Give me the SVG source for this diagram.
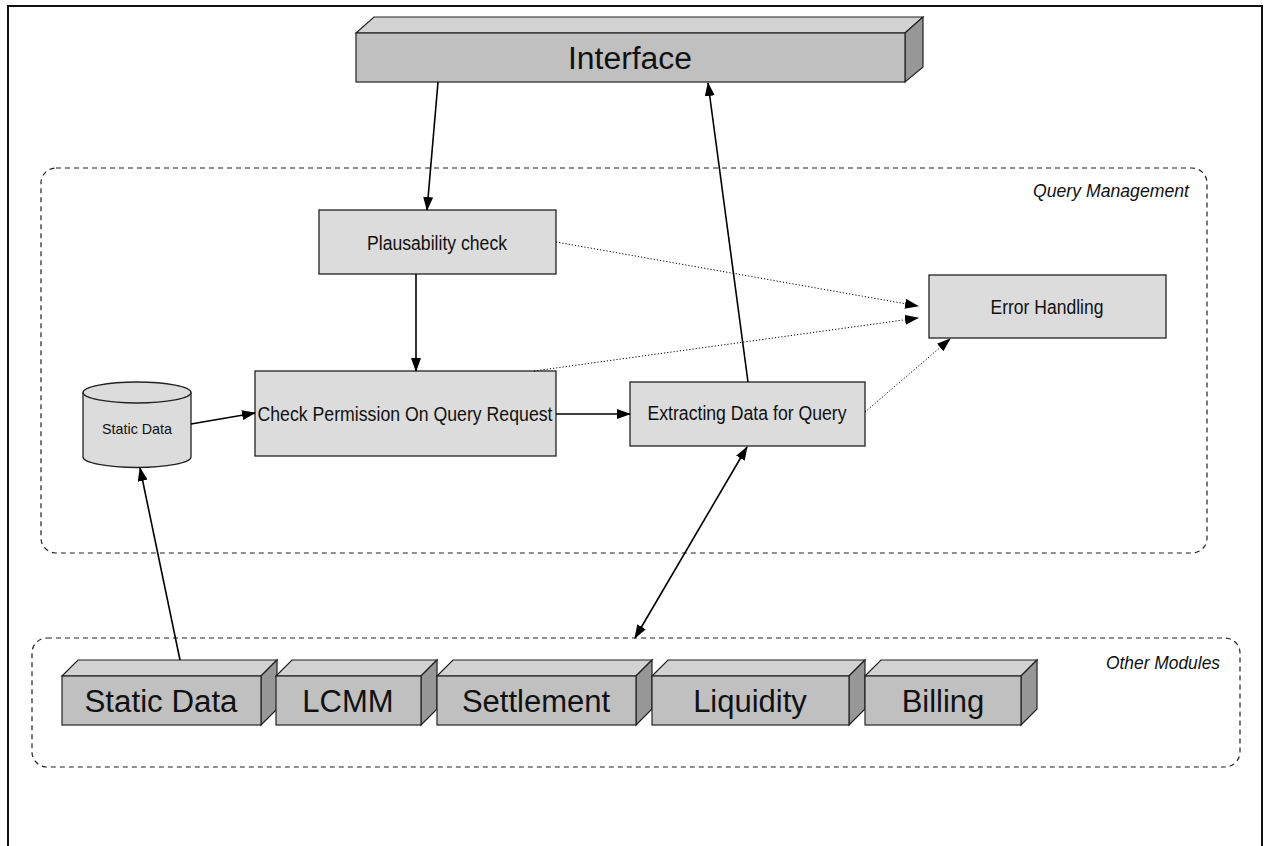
<svg xmlns="http://www.w3.org/2000/svg" width="1264" height="846" viewBox="0 0 1264 846">
<style>
.box{fill:#dcdcdc;stroke:#222;stroke-width:1.3}
.front{fill:#c0c0c0;stroke:#222;stroke-width:1.2}
.top{fill:#d2d2d2;stroke:#222;stroke-width:1.2}
.side{fill:#979797;stroke:#222;stroke-width:1.2}
.grp{fill:none;stroke:#222;stroke-width:1.2;stroke-dasharray:5 4}
.t{font-family:"Liberation Sans",Arial,sans-serif;fill:#111;text-anchor:middle}
.big{font-size:31px}
.mid{font-size:19.5px}
.lab{font-family:"Liberation Sans",Arial,sans-serif;font-style:italic;font-size:17.5px;fill:#111;text-anchor:end}
.c{fill:none;stroke:#000;stroke-width:1.6}
.d{fill:none;stroke:#000;stroke-width:1;stroke-dasharray:1.2 2}
</style>
<defs>
<marker id="ah" markerWidth="14" markerHeight="10" refX="13" refY="5" orient="auto" markerUnits="userSpaceOnUse">
<path d="M0,0 L14,5 L0,10 Z" fill="#000"/>
</marker>
<marker id="as" markerWidth="14" markerHeight="10" refX="1" refY="5" orient="auto" markerUnits="userSpaceOnUse">
<path d="M14,0 L0,5 L14,10 Z" fill="#000"/>
</marker>
</defs>
<rect x="0" y="0" width="1264" height="846" fill="#fff"/>
<path d="M8,900 L8,6 L1262,6 L1262,900" fill="none" stroke="#111" stroke-width="2"/>

<g id="query-management">
<rect class="grp" x="41" y="168" width="1166" height="385" rx="15"/>
<text class="lab" x="1189" y="197" textLength="156" lengthAdjust="spacingAndGlyphs">Query Management</text>
</g>
<g id="other-modules">
<rect class="grp" x="32" y="638" width="1208" height="129" rx="15"/>
<text class="lab" x="1220" y="669" textLength="114" lengthAdjust="spacingAndGlyphs">Other Modules</text>
</g>

<g id="interface">
<polygon class="top" points="356,33 374,17 923,17 905,33"/>
<polygon class="side" points="905,33 923,17 923,67 905,82"/>
<rect class="front" x="356" y="33" width="549" height="49"/>
<text class="t big" x="630" y="69" textLength="124" lengthAdjust="spacingAndGlyphs">Interface</text>
</g>

<g id="plausability">
<rect class="box" x="319" y="210" width="237" height="64"/>
<text class="t mid" x="437" y="250" textLength="140" lengthAdjust="spacingAndGlyphs">Plausability check</text>
</g>
<g id="check-permission">
<rect class="box" x="255" y="371" width="301" height="85"/>
<text class="t mid" x="405" y="421" textLength="295" lengthAdjust="spacingAndGlyphs">Check Permission On Query Request</text>
</g>
<g id="extracting">
<rect class="box" x="630" y="382" width="235" height="64"/>
<text class="t mid" x="747" y="420" textLength="199" lengthAdjust="spacingAndGlyphs">Extracting Data for Query</text>
</g>
<g id="error-handling">
<rect class="box" x="929" y="275" width="237" height="63"/>
<text class="t mid" x="1047" y="314" textLength="113" lengthAdjust="spacingAndGlyphs">Error Handling</text>
</g>
<g id="static-data-db">
<path class="box" d="M83,392.5 L83,457 A54,10.5 0 0 0 191,457 L191,392.5 A54,10.5 0 0 0 83,392.5 Z"/>
<path d="M83,392.5 A54,10.5 0 0 0 191,392.5" fill="none" stroke="#222" stroke-width="1.3"/>
<text class="t" x="137" y="434" font-size="14.5" textLength="70" lengthAdjust="spacingAndGlyphs">Static Data</text>
</g>

<g id="mod-static">
<polygon class="top" points="62,676 78,660 277,660 261,676"/>
<polygon class="side" points="261,676 277,660 277,709 261,725"/>
<rect class="front" x="62" y="676" width="199" height="49"/>
<text class="t big" x="161" y="712" textLength="153" lengthAdjust="spacingAndGlyphs">Static Data</text>
</g>
<g id="mod-lcmm">
<polygon class="top" points="276,676 292,660 437,660 421,676"/>
<polygon class="side" points="421,676 437,660 437,709 421,725"/>
<rect class="front" x="276" y="676" width="145" height="49"/>
<text class="t big" x="348" y="712">LCMM</text>
</g>
<g id="mod-settlement">
<polygon class="top" points="437,676 453,660 652,660 636,676"/>
<polygon class="side" points="636,676 652,660 652,709 636,725"/>
<rect class="front" x="437" y="676" width="199" height="49"/>
<text class="t big" x="536" y="712">Settlement</text>
</g>
<g id="mod-liquidity">
<polygon class="top" points="652,676 668,660 865,660 849,676"/>
<polygon class="side" points="849,676 865,660 865,709 849,725"/>
<rect class="front" x="652" y="676" width="197" height="49"/>
<text class="t big" x="750" y="712">Liquidity</text>
</g>
<g id="mod-billing">
<polygon class="top" points="865,676 881,660 1037,660 1021,676"/>
<polygon class="side" points="1021,676 1037,660 1037,709 1021,725"/>
<rect class="front" x="865" y="676" width="156" height="49"/>
<text class="t big" x="943" y="712">Billing</text>
</g>

<g id="connectors">
<line class="c" x1="438" y1="82" x2="427" y2="210" marker-end="url(#ah)"/>
<line class="c" x1="748" y1="382" x2="708" y2="83" marker-end="url(#ah)"/>
<line class="c" x1="416" y1="274" x2="416" y2="371" marker-end="url(#ah)"/>
<line class="c" x1="191" y1="424" x2="255" y2="413" marker-end="url(#ah)"/>
<line class="c" x1="556" y1="414" x2="630" y2="414" marker-end="url(#ah)"/>
<line class="c" x1="180" y1="660" x2="140" y2="468" marker-end="url(#ah)"/>
<line class="c" x1="747" y1="447" x2="635" y2="638" marker-start="url(#as)" marker-end="url(#ah)"/>
<line class="d" x1="556" y1="242" x2="918" y2="306" marker-end="url(#ah)"/>
<line class="d" x1="534" y1="371" x2="918" y2="318" marker-end="url(#ah)"/>
<line class="d" x1="865" y1="412" x2="950" y2="339" marker-end="url(#ah)"/>
</g>
</svg>
